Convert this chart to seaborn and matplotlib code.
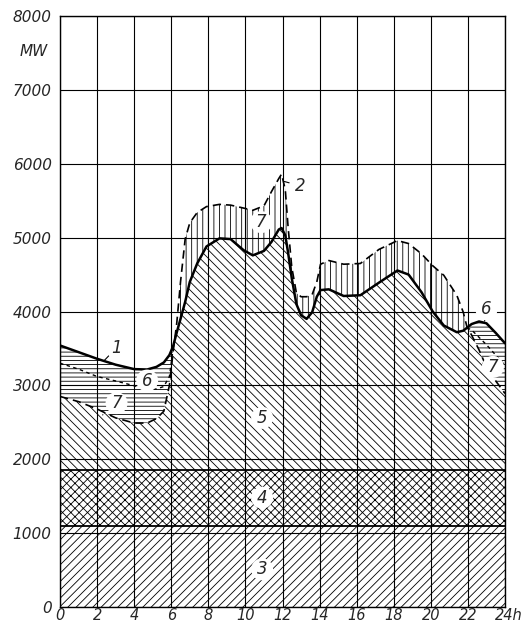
import matplotlib
matplotlib.use("Agg")
import matplotlib.pyplot as plt
import numpy as np
import pandas as pd
import seaborn as sns
from matplotlib.transforms import ScaledTranslation

# hourly readings (h) of the daily load diagram
hours = [0, 1, 2, 3, 4, 4.7, 5.2, 5.6, 5.9, 6.1, 6.3, 6.5, 6.75, 7.0, 7.4, 7.9,
         8.6, 9.2, 9.9, 10.4, 11.0, 11.4, 11.8, 11.95, 12.15, 12.3, 12.5, 12.75,
         13.0, 13.3, 13.6, 13.85, 14.05, 14.5, 15.3, 16.2, 17.2, 18.2, 18.8, 19.5,
         20.1, 20.7, 21.4, 21.75, 21.95, 22.2, 22.6, 23.0, 23.5, 24]
# curve 1 (solid)
load_mw = [3540, 3450, 3360, 3280, 3220, 3215, 3250, 3310, 3410, 3530, 3720, 3900,
           4130, 4400, 4650, 4880, 4990, 4980, 4830, 4760, 4820, 4940, 5110, 5130,
           5030, 4800, 4450, 4100, 3950, 3900, 3990, 4200, 4290, 4300, 4210, 4220,
           4390, 4555, 4500, 4260, 4000, 3810, 3720, 3740, 3780, 3830, 3865, 3840,
           3710, 3570]
# curve 2 (dashed)
gen_mw = [2850, 2780, 2680, 2560, 2490, 2490, 2550, 2650, 3000, 3450, 3850, 4400,
          4980, 5200, 5340, 5420, 5450, 5440, 5400, 5370, 5430, 5620, 5800, 5860,
          5650, 5150, 4600, 4250, 4200, 4200, 4230, 4400, 4640, 4690, 4640, 4650,
          4840, 4960, 4920, 4780, 4620, 4490, 4220, 3990, 3790, 3680, 3480, 3250,
          3060, 2890]
# short-dashed split between areas 6 and 7 at night
am_hours = [0, 1, 2, 3, 4, 4.7, 5.2, 5.6, 5.9, 6.1]
am_split = [3300, 3220, 3120, 3060, 2995, 2950, 2950, 2985, 3120, 3490]
pm_hours = [21.95, 22.2, 22.6, 23.0, 23.5, 24]
pm_split = [3780, 3750, 3650, 3550, 3410, 3270]

band3_top = 1100
band4_top = 1850

x_ticks = [0, 2, 4, 6, 8, 10, 12, 14, 16, 18, 20, 22, 24]
x_tick_labels = ["0", "2", "4", "6", "8", "10", "12", "14", "16", "18", "20", "22", "24h"]
y_ticks = [0, 1000, 2000, 3000, 4000, 5000, 6000, 7000, 8000]

sns.set_style("white")
plt.rcParams["font.family"] = ["DejaVu Sans"]
plt.rcParams["hatch.linewidth"] = 0.6
plt.rcParams["hatch.color"] = "black"

fig = plt.figure(figsize=(5.29, 6.27), dpi=100)
ax = fig.add_axes([60 / 529, 20 / 627, 445 / 529, 591 / 627])

df = pd.DataFrame({"h": hours, "load": load_mw, "gen": gen_mw})
lower = np.minimum(df["load"], df["gen"])

hk = dict(facecolor="white", edgecolor="black", linewidth=0, zorder=1)
ax.fill_between(df["h"], 0, band3_top, hatch="////", **hk)
ax.fill_between(df["h"], band3_top, band4_top, hatch="xxxx", **hk)
ax.fill_between(df["h"], band4_top, lower, hatch="\\\\\\\\", **hk)
ax.fill_between(df["h"], df["load"], df["gen"], where=df["gen"] >= df["load"],
                interpolate=True, hatch="|||", **hk)
ax.fill_between(df["h"], df["gen"], df["load"], where=df["gen"] <= df["load"],
                interpolate=True, hatch="----", **hk)

ax.axhline(band3_top, color="black", lw=1.3, zorder=3)
ax.axhline(band4_top, color="black", lw=1.3, zorder=3)

sns.lineplot(data=df, x="h", y="load", color="black", lw=1.8, ax=ax, zorder=4)
sns.lineplot(data=df, x="h", y="gen", color="black", lw=1.2,
             linestyle=(0, (5, 3)), ax=ax, zorder=4)
sns.lineplot(x=am_hours, y=am_split, color="black", lw=1.0,
             linestyle=(0, (2.5, 2.5)), ax=ax, zorder=4)
sns.lineplot(x=pm_hours, y=pm_split, color="black", lw=1.0,
             linestyle=(0, (2.5, 2.5)), ax=ax, zorder=4)

ax.set_xlim(0, 24)
ax.set_ylim(0, 8000)
ax.set_xlabel("")
ax.set_ylabel("")
ax.set_xticks(x_ticks)
ax.set_xticklabels(x_tick_labels, style="italic", fontsize=10.5)
ax.set_yticks(y_ticks)
ax.set_yticklabels([str(v) for v in y_ticks], style="italic", fontsize=11)
ax.tick_params(axis="both", length=0)
ax.tick_params(axis="x", pad=1)
ax.tick_params(axis="y", pad=6)
last = ax.get_xticklabels()[-1]
last.set_horizontalalignment("left")
last.set_transform(last.get_transform() + ScaledTranslation(-7 / 72, 0, fig.dpi_scale_trans))

ax.grid(True, color="black", lw=0.8)
ax.set_axisbelow(False)
for sp in ax.spines.values():
    sp.set_color("black")
    sp.set_linewidth(1.0)

fig.text(34 / 529, 1 - 52 / 627, "MW", ha="center", va="center",
         style="italic", fontsize=11)

lab = dict(fontsize=12, style="italic", ha="center", va="center", zorder=6,
           bbox=dict(boxstyle="circle,pad=0.12", fc="white", ec="none"))
leader = dict(arrowstyle="-", lw=0.8, color="black", shrinkA=5, shrinkB=0)

ax.annotate("1", xy=(2.4, 3340), xytext=(3.05, 3510), arrowprops=leader, **lab)
ax.annotate("2", xy=(12.1, 5760), xytext=(12.95, 5700), arrowprops=leader, **lab)
ax.text(10.85, 5210, "7", **lab)
ax.text(10.9, 2560, "5", **lab)
ax.text(10.9, 1480, "4", **lab)
ax.text(10.9, 510, "3", **lab)
ax.text(4.7, 3065, "6", **lab)
ax.annotate("7", xy=(2.3, 2600), xytext=(3.05, 2760), arrowprops=leader, **lab)
ax.annotate("6", xy=(22.9, 3870), xytext=(23.0, 4030), arrowprops=leader, **lab)
ax.annotate("7", xy=(22.8, 3300), xytext=(23.35, 3250), arrowprops=leader, **lab)

fig.savefig("out.png", dpi=100)
